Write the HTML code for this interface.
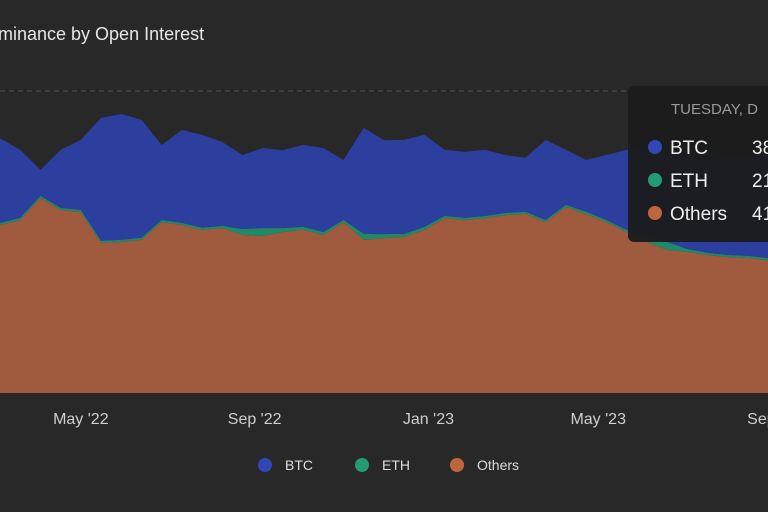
<!DOCTYPE html>
<html><head><meta charset="utf-8"><style>
body{margin:0;width:768px;height:512px;overflow:hidden;background:#272727;font-family:"Liberation Sans",sans-serif}
svg{display:block}
</style></head><body>
<svg width="768" height="512">
<rect x="0" y="0" width="768" height="512" fill="#282828"/>
<text x="-2" y="40" fill="#e6e6e6" font-size="18">minance by Open Interest</text>
<line x1="0" y1="91" x2="768" y2="91" stroke="#555" stroke-dasharray="5,4"/>
<g id="areas"></g>
<g id="xticks"></g>
<g>
<g><circle cx="265" cy="465" r="7" fill="#3047b5"/><text x="285" y="470" fill="#ddd" font-size="14">BTC</text></g>
<g><circle cx="362" cy="465" r="7" fill="#229a74"/><text x="382" y="470" fill="#ddd" font-size="14">ETH</text></g>
<g><circle cx="457" cy="465" r="7" fill="#c0643e"/><text x="477" y="470" fill="#ddd" font-size="14">Others</text></g>
</g>
<g>
<rect x="628" y="86" width="160" height="156" rx="6" fill="#1b1b1b" opacity="0.95"/>
<text x="671" y="114" fill="#9a9a9a" font-size="15">TUESDAY, D</text>
<circle cx="655" cy="147" r="7" fill="#3047b5"/><text x="670" y="154" fill="#eee" font-size="19">BTC</text><text x="752" y="154" fill="#eee" font-size="19">38</text>
<circle cx="655" cy="180" r="7" fill="#229a74"/><text x="670" y="187" fill="#eee" font-size="19">ETH</text><text x="752" y="187" fill="#eee" font-size="19">21</text>
<circle cx="655" cy="213" r="7" fill="#c0643e"/><text x="670" y="220" fill="#eee" font-size="19">Others</text><text x="752" y="220" fill="#eee" font-size="19">41</text>
</g>
</svg>
<script>
const others=[55.6,57.3,64.6,60.6,59.9,49.7,50.0,50.7,56.6,55.6,54.0,54.6,52.3,52.0,53.3,54.0,52.3,56.6,50.7,51.3,51.7,54.0,57.9,57.3,57.9,58.9,59.3,56.6,61.6,59.3,56.6,53.3,50.0,47.4,46.7,45.7,45.0,44.7,44.0];
const eth=[0.7,0.7,0.7,0.7,0.7,0.7,0.7,0.7,0.7,0.7,0.7,0.7,2.0,2.6,1.3,1.0,1.0,0.7,2.0,1.3,1.0,1.0,0.7,0.7,0.7,0.7,0.7,0.7,0.7,0.7,0.7,0.7,1.3,2.6,1.0,0.7,0.7,0.7,0.7];
const btc=[28.1,22.5,8.6,19.2,23.2,40.7,41.7,39.1,24.8,30.8,30.8,27.8,24.5,26.5,25.8,27.2,27.8,19.9,35.1,31.1,31.1,30.5,21.9,21.9,21.9,19.2,17.9,26.5,18.2,17.2,21.5,26.5,29.1,28.8,31.1,33.4,33.1,32.5,34.1];
const tickLabels=["May '22","Sep '22","Jan '23","May '23","Sep '23"];
const tickIdx=[4,12.6,21.2,29.6,38.3];
const N=others.length;
const xs=i=>i*768/(N-1);
const ys=v=>393-v*3.02;
const svgNS="http://www.w3.org/2000/svg";
const g=document.getElementById('areas');
function area(lo,hi,color,name){
  let d="M"+xs(0)+","+ys(hi[0]);
  for(let i=1;i<N;i++)d+="L"+xs(i)+","+ys(hi[i]);
  for(let i=N-1;i>=0;i--)d+="L"+xs(i)+","+ys(lo[i]);
  d+="Z";
  const p=document.createElementNS(svgNS,'path');
  p.setAttribute('d',d);p.setAttribute('fill',color);
  
  
  g.appendChild(p);
}
const zero=others.map(()=>0);
const s1=others.slice();
const s2=others.map((v,i)=>v+eth[i]);
const s3=s2.map((v,i)=>v+btc[i]);
area(s2,s3,"#2c3f9e","btc-area");
area(s1,s2,"#1e8a68","eth-area");
area(zero,s1,"#a05a3d","others-area");
const xt=document.getElementById('xticks');
tickLabels.forEach((t,k)=>{
  const e=document.createElementNS(svgNS,'text');
  e.setAttribute('x',xs(tickIdx[k]));e.setAttribute('y',424);
  e.setAttribute('text-anchor','middle');e.setAttribute('fill','#cfcfcf');e.setAttribute('font-size','16');
  
  
  e.textContent=t;xt.appendChild(e);
});
</script>
</body></html>
